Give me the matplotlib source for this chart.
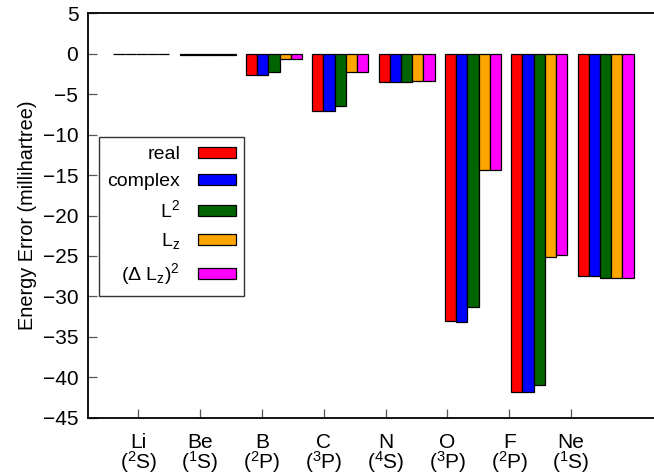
import numpy as np
import matplotlib
matplotlib.use("Agg")
import matplotlib.pyplot as plt

plt.rcParams['font.family'] = ['Liberation Sans', 'DejaVu Sans']
plt.rcParams['mathtext.fontset'] = 'custom'
plt.rcParams['mathtext.rm'] = 'Liberation Sans'
plt.rcParams['mathtext.it'] = 'Liberation Sans'

atoms = ["Li", "Be", "B", "C", "N", "O", "F", "Ne"]
terms = ["2S", "1S", "2P", "3P", "4S", "3P", "2P", "1S"]

series_names = ["real", "complex", r"L$\mathregular{^{2}}$", r"L$\mathregular{_{z}}$",
                r"($\Delta$ L$\mathregular{_{z}}$)$\mathregular{^{2}}$"]
series_colors = ["#ff0000", "#0000ff", "#006400", "#ffa500", "#ff00ff"]

# energy errors in millihartree
real = [-0.05, -0.1, -2.6, -7.1, -3.5, -33.1, -41.8, -27.5]
complex_ = [-0.05, -0.1, -2.6, -7.1, -3.5, -33.2, -41.8, -27.5]
l2 = [-0.05, -0.1, -2.3, -6.5, -3.5, -31.3, -41.0, -27.7]
lz = [-0.05, -0.1, -0.6, -2.2, -3.4, -14.4, -25.1, -27.7]
dlz2 = [-0.05, -0.1, -0.6, -2.2, -3.4, -14.4, -24.9, -27.7]
series = [real, complex_, l2, lz, dlz2]

fig = plt.figure(figsize=(6.54, 4.74), dpi=100)
ax = fig.add_axes([0.1346, 0.1188, 0.8654, 0.853])

x = np.arange(len(atoms))
width = 0.169
for k, (vals, name, col) in enumerate(zip(series, series_names, series_colors)):
    ax.bar(x + (k - 2) * width, vals, width, color=col, edgecolor='black',
           linewidth=0.9, label=name)

# gnuplot-style tic placement (slightly compressed vs. the clusters)
tick_pos = -0.045 + 0.932 * x
labels = [a + "\n(" + r"$\mathregular{^{" + t[0] + "}}$" + t[1] + ")" for a, t in zip(atoms, terms)]
ax.set_xticks(tick_pos)
ax.set_xticklabels(labels, fontsize=15, linespacing=0.85)
ax.set_xlim(-0.804, 7.73)
ax.set_ylim(-45, 5)
ax.set_yticks(np.arange(-45, 6, 5))
ax.tick_params(axis='both', direction='in', length=6.5, width=0.9, color='#555555',
               labelsize=15, top=False, right=False)
ax.tick_params(axis='x', pad=11)
ax.tick_params(axis='y', pad=7)
ax.spines['right'].set_visible(False)
for s in ['left', 'bottom', 'top']:
    ax.spines[s].set_linewidth(1.3)
ax.set_ylabel("Energy Error (millihartree)", fontsize=14.3, labelpad=4)

leg = ax.legend(loc='upper left', bbox_to_anchor=(0.019, 0.693), markerfirst=False,
                fontsize=14, frameon=True, fancybox=False, edgecolor='black',
                handlelength=1.95, handleheight=0.5, labelspacing=0.5,
                borderpad=0.45, handletextpad=0.9, borderaxespad=0)
leg.get_frame().set_linewidth(1.0)
for t in leg.get_texts():
    t.set_ha('right')

fig.savefig("out.png", dpi=100)
